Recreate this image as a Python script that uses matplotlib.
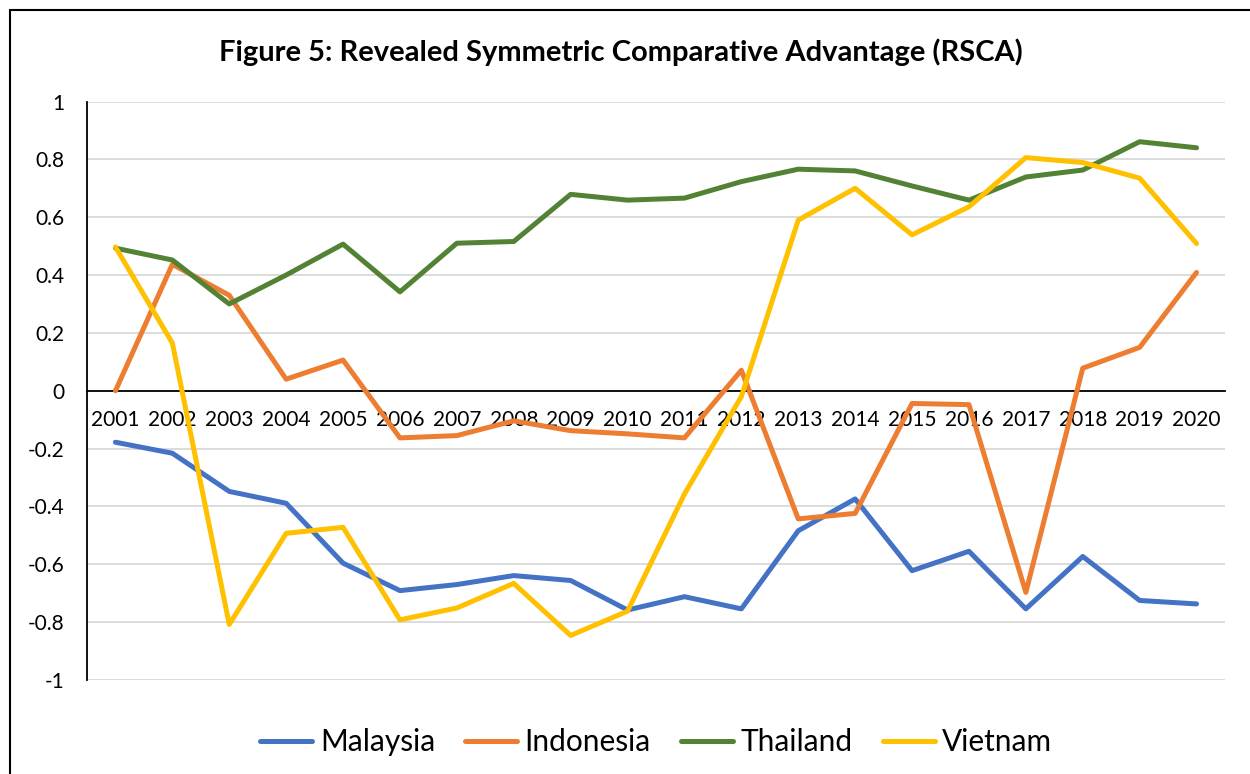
import matplotlib.pyplot as plt
from matplotlib.patches import Rectangle

years = [str(y) for y in range(2001, 2021)]
malaysia = [-0.178, -0.216, -0.348, -0.389, -0.596, -0.691, -0.670, -0.639, -0.656, -0.758,
            -0.712, -0.754, -0.484, -0.374, -0.622, -0.555, -0.754, -0.573, -0.725, -0.737]
indonesia = [0.0, 0.437, 0.330, 0.040, 0.106, -0.163, -0.155, -0.104, -0.138, -0.149,
             -0.163, 0.071, -0.443, -0.424, -0.044, -0.048, -0.697, 0.078, 0.150, 0.409]
thailand = [0.493, 0.452, 0.300, 0.400, 0.507, 0.342, 0.510, 0.516, 0.679, 0.659,
            0.666, 0.723, 0.766, 0.760, 0.708, 0.659, 0.739, 0.763, 0.861, 0.840]
vietnam = [0.497, 0.165, -0.808, -0.493, -0.472, -0.792, -0.751, -0.666, -0.846, -0.762,
           -0.357, -0.020, 0.590, 0.700, 0.539, 0.636, 0.806, 0.789, 0.735, 0.509]

series = [('Malaysia', malaysia, '#4472C4'),
          ('Indonesia', indonesia, '#ED7D31'),
          ('Thailand', thailand, '#548235'),
          ('Vietnam', vietnam, '#FFC000')]

plt.rcParams['font.family'] = ['Lato', 'DejaVu Sans']

fig = plt.figure(figsize=(12.5, 7.74), dpi=100)
ax = fig.add_axes([87/1250, 1 - 680/774, (1225 - 87)/1250, (680 - 101.5)/774])

# outer chart frame
fig.patches.append(Rectangle((10/1250, -0.05), 1.1, 1 - 9.5/774 + 0.05,
                             transform=fig.transFigure, fill=False,
                             edgecolor='black', linewidth=1.5))

x = list(range(len(years)))
for name, vals, col in series:
    ax.plot(x, vals, color=col, linewidth=3.6, label=name,
            solid_capstyle='round', solid_joinstyle='round')

ax.set_xlim(-0.5, len(years) - 0.5)
ax.set_ylim(-1, 1)
ax.set_yticks([-1, -0.8, -0.6, -0.4, -0.2, 0, 0.2, 0.4, 0.6, 0.8, 1])
ax.set_yticklabels(['-1', '-0.8', '-0.6', '-0.4', '-0.2', '0', '0.2', '0.4', '0.6', '0.8', '1'])
ax.set_xticks(x)
ax.set_xticklabels(years)
ax.grid(axis='y', color='#D9D9D9', linewidth=1.3)
ax.set_axisbelow(True)

for s in ['top', 'right']:
    ax.spines[s].set_visible(False)
ax.spines['bottom'].set_position(('data', 0))
ax.spines['bottom'].set_linewidth(1.3)
ax.spines['left'].set_linewidth(1.3)
ax.spines['bottom'].set_zorder(1)
ax.tick_params(axis='x', length=0, pad=14, labelsize=15)
ax.tick_params(axis='y', length=0, pad=16, labelsize=15)

fig.text(0.497, 1 - 52/774, 'Figure 5: Revealed Symmetric Comparative Advantage (RSCA)',
         ha='center', va='center', fontsize=21, fontweight='bold')

fig.legend(loc='center', bbox_to_anchor=(0.525, 1 - 742/774), ncol=4, frameon=False,
           fontsize=21.5, handlelength=1.75, columnspacing=1.0, handletextpad=0.25)

fig.savefig('out.png', dpi=100)
